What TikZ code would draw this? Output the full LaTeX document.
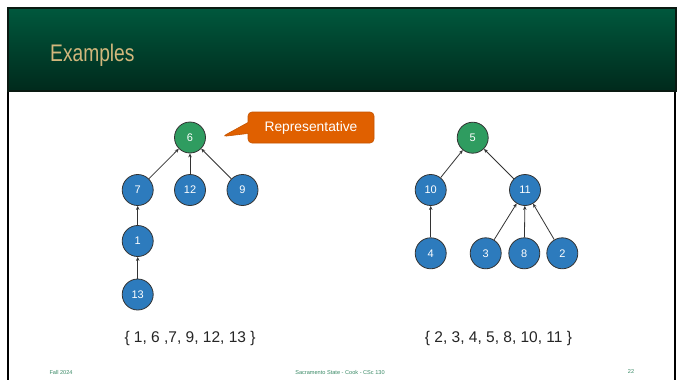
\documentclass[tikz,border=0pt]{standalone}
\usepackage{fontspec}
\setmainfont{Liberation Sans}
\newfontfamily\narrowsans[FakeStretch=0.8]{Liberation Sans}
\usetikzlibrary{shapes.callouts,arrows.meta}
\definecolor{hdrtop}{HTML}{00583D}
\definecolor{hdrbot}{HTML}{002A1C}
\definecolor{hdrline}{HTML}{0A1A12}
\definecolor{titletan}{HTML}{D2B77C}
\definecolor{setblue}{HTML}{2D7BBD}
\definecolor{repgreen}{HTML}{2F9C60}
\definecolor{ringgray}{HTML}{333333}
\definecolor{calloutorange}{HTML}{E06000}
\definecolor{calloutedge}{HTML}{C45400}
\definecolor{footgreen}{HTML}{3A8A66}
\tikzset{
  elem/.style={circle, minimum size=31pt, inner sep=0pt, fill=setblue, draw=ringgray,
    line width=0.8pt, text=white, font=\fontsize{11}{13}\selectfont},
  rep/.style={elem, fill=repgreen},
  link/.style={draw=ringgray, line width=0.8pt, -{Stealth[length=4pt,width=3.5pt]}},
  setlabel/.style={font=\fontsize{15.5}{19}\selectfont, text=black!85},
  foot/.style={font=\fontsize{5.6}{6}\selectfont, text=footgreen},
}
\begin{document}
\begin{tikzpicture}[x=1pt,y=-1pt]
\useasboundingbox (0,0) rectangle (682,380);
\fill[white] (0,0) rectangle (682,380);
% slide frame and title band
\draw[black, line width=2pt] (8,90) -- (8,380);
\draw[black, line width=2pt] (675,90) -- (675,380);
\shade[top color=hdrtop, bottom color=hdrbot] (7.5,8) rectangle (675.5,90.5);
\draw[hdrline, line width=2pt] (7.5,8) rectangle (675.5,90.5);
\node[anchor=base west, text=titletan, font=\narrowsans\fontsize{24}{28}\selectfont, inner sep=0pt] (title) at (50,61) {Examples};

% first set
\node[rep]  (n6)  at (190,137.5) {6};
\node[elem] (n7)  at (137.7,190) {7};
\node[elem] (n12) at (190,190) {12};
\node[elem] (n9)  at (242.5,190) {9};
\node[elem] (n1)  at (137.7,241) {1};
\node[elem] (n13) at (137.7,294.5) {13};
\draw[link] (n7) -- (n6);
\draw[link] (n12) -- (n6);
\draw[link] (n9) -- (n6);
\draw[link] (n1) -- (n7);
\draw[link] (n13) -- (n1);

% callout naming the root
\coordinate (tip) at (222.5,136.5);
\node[rectangle callout, callout absolute pointer=(tip), callout pointer width=11pt,
  rounded corners=4pt, fill=calloutorange, draw=calloutedge, line width=0.6pt,
  minimum width=126pt, minimum height=31pt, text=white,
  font=\fontsize{13.8}{16}\selectfont] (rep) at (311,127.5) {Representative};

% second set
\node[rep]  (n5)  at (472.7,137.7) {5};
\node[elem] (n10) at (430.7,190) {10};
\node[elem] (n11) at (525,190) {11};
\node[elem] (n4)  at (430.7,253.3) {4};
\node[elem] (n3)  at (485.7,253.3) {3};
\node[elem] (n8)  at (524.3,253.3) {8};
\node[elem] (n2)  at (562.3,253.3) {2};
\draw[link] (n10) -- (n5);
\draw[link] (n11) -- (n5);
\draw[link] (n4) -- (n10);
\draw[link] (n3) -- (n11);
\draw[link] (n8) -- (n11);
\draw[link] (n2) -- (n11);

% member lists
\node[setlabel] (s1) at (190,338) {\{ 1, 6 ,7, 9, 12, 13 \}};
\node[setlabel] (s2) at (498.5,338) {\{ 2, 3, 4, 5, 8, 10, 11 \}};

% footer
\node[foot, anchor=west] (f1) at (46,372) {Fall 2024};
\node[foot] (f2) at (340,372) {Sacramento State - Cook - CSc 130};
\node[foot] (f3) at (631,372) {22};
\end{tikzpicture}
\end{document}
